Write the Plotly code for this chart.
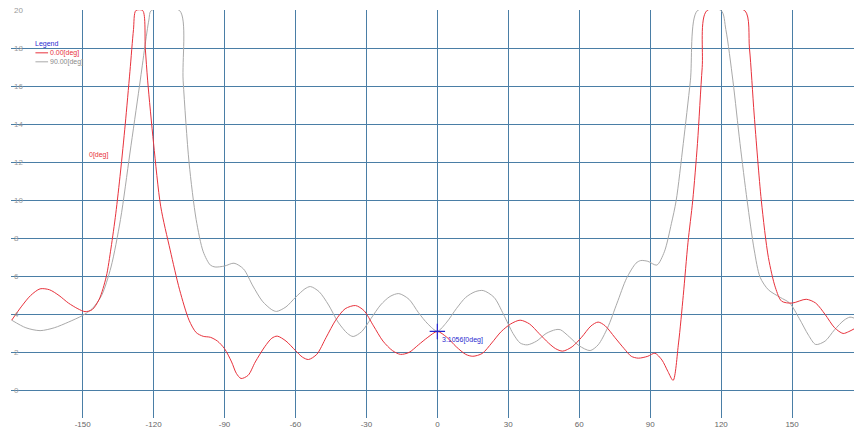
import plotly.graph_objects as go

# Azimuth angles [deg] and response values for the two cuts
red_deg = [-180, -176, -172, -168, -164, -160, -156, -152, -149, -146, -143, -140, -138, -136,
           -134, -132, -130, -128.5, -127.5, -124.6, -123.5, -122.5, -120, -117, -113, -109,
           -105, -102, -99, -96, -93, -90, -87, -85, -83, -80, -77, -73, -70, -67.7, -64, -60,
           -57, -54.5, -51, -47, -43, -39, -34.6, -31, -27, -23, -19, -15.6, -12, -8, -4, 0,
           4, 8, 12, 15, 19, 23, 27, 31, 35, 39, 43, 47, 50, 53, 57, 61, 65, 68, 71, 75, 79,
           82, 85, 89, 92, 95, 97.5, 99.7, 102, 104, 106, 108, 110, 112, 114, 130, 132, 134,
           137, 140, 143, 145.6, 150, 156, 160, 164, 168, 171.6, 174, 176.5]
red_val = [3.7, 4.4, 5.0, 5.35, 5.3, 5.0, 4.6, 4.3, 4.15, 4.25, 4.8, 6.0, 7.5, 9.3,
           11.5, 14.0, 16.8, 19.0, 20, 20, 18.0, 16.3, 13.0, 9.7, 7.4, 5.3,
           3.7, 3.05, 2.85, 2.8, 2.6, 2.2, 1.5, 0.9, 0.63, 0.8, 1.5, 2.3, 2.75, 2.86, 2.6, 2.1,
           1.75, 1.63, 1.9, 2.8, 3.7, 4.3, 4.47, 4.2, 3.4, 2.6, 2.1, 1.9, 2.0, 2.4, 2.8, 3.1056,
           2.8, 2.3, 1.9, 1.8, 1.95, 2.5, 3.1, 3.5, 3.7, 3.5, 3.0, 2.5, 2.2, 2.07, 2.3, 2.8, 3.4,
           3.6, 3.4, 2.8, 2.2, 1.8, 1.7, 1.8, 1.96, 1.6, 1.0, 0.53, 2.5, 5.0, 7.8, 10.0, 13.0,
           17.0, 20, 20, 18.0, 14.5, 10.0, 7.0, 5.4, 4.7, 4.6, 4.8, 4.6, 4.0, 3.3, 3.0, 3.1, 3.26]

gray_deg = [-180, -174, -168, -162, -156, -150, -146, -142, -138, -134, -130, -126, -122, -121,
            -109, -107.5, -105, -102, -99, -96, -94, -90, -86, -82, -78, -74, -70, -68, -64,
            -60, -56, -53.7, -50, -46, -42, -38, -35.6, -32, -28, -24, -20, -16.3, -12, -8, -4,
            0, 4, 8, 12, 16, 19.4, 24, 28, 32, 35, 38, 42, 46, 50, 52, 56, 60, 64.6, 68, 72,
            76, 80, 84, 86, 89, 92.8, 96, 99, 101, 104, 107, 110, 120, 122, 125, 128, 131, 134,
            136.5, 140, 145, 149, 153, 157, 160, 164, 168, 172, 174.5, 176.5]
gray_val = [3.7, 3.3, 3.15, 3.3, 3.6, 3.95, 4.3, 5.0, 6.5, 9.0, 12.5, 16.0, 19.5, 20,
            20, 16.3, 12.0, 9.0, 7.3, 6.6, 6.5, 6.55, 6.7, 6.4, 5.5, 4.7, 4.25, 4.16, 4.4,
            4.9, 5.35, 5.47, 5.2, 4.5, 3.6, 3.0, 2.84, 3.1, 3.8, 4.5, 4.95, 5.1, 4.8, 4.1, 3.5,
            3.12, 3.6, 4.3, 4.9, 5.2, 5.26, 4.9, 4.0, 3.0, 2.5, 2.4, 2.6, 3.0, 3.2, 3.2, 2.8,
            2.35, 2.1, 2.4, 3.3, 4.6, 5.9, 6.7, 6.84, 6.8, 6.6, 7.3, 8.8, 10.0, 13.0, 16.3, 20,
            20, 19.0, 16.3, 13.0, 10.0, 7.4, 5.96, 5.3, 4.9, 4.6, 3.8, 2.9, 2.42, 2.6, 3.2, 3.7,
            3.86, 3.8]

x_ticks = [-150, -120, -90, -60, -30, 0, 30, 60, 90, 120, 150]
y_ticks = [0, 2, 4, 6, 8, 10, 12, 14, 16, 18, 20]

series_names = ["0.00[deg]", "90.00[deg]"]
cursor_deg = 0
cursor_val = red_val[red_deg.index(cursor_deg)]

RED = "#e8323c"
GRAY = "#a9a9a9"
GRID = "#4a7ea6"
FONT = "Liberation Sans Narrow, Liberation Sans, Arial"

fig = go.Figure()
fig.add_trace(go.Scatter(x=gray_deg, y=gray_val, mode="lines", name=series_names[1],
                         line=dict(color=GRAY, width=1, shape="spline", smoothing=0.8),
                         showlegend=False, hoverinfo="skip"))
fig.add_trace(go.Scatter(x=red_deg, y=red_val, mode="lines", name=series_names[0],
                         line=dict(color=RED, width=1, shape="spline", smoothing=0.8),
                         showlegend=False, hoverinfo="skip"))

# cursor marker with its readout
fig.add_trace(go.Scatter(x=[cursor_deg], y=[cursor_val], mode="markers",
                         marker=dict(symbol="cross-thin", size=11,
                                     line=dict(color="#2626d0", width=1.2)),
                         showlegend=False, hoverinfo="skip"))
fig.add_annotation(x=cursor_deg, y=cursor_val, text=f"{cursor_val:.4f}[{cursor_deg}deg]",
                   showarrow=False, xanchor="left", yanchor="top", xshift=3, yshift=-3,
                   font=dict(family=FONT, size=7, color="#2a2ad0"))

# series label on the curve
fig.add_annotation(x=-148, y=12.4, text="0[deg]", showarrow=False, xanchor="left",
                   font=dict(family=FONT, size=7, color=RED))

# hand-drawn legend block
fig.add_annotation(xref="paper", yref="paper", x=0.026, y=0.917, text="Legend",
                   showarrow=False, xanchor="left", yanchor="middle",
                   font=dict(family=FONT, size=7, color="#2a2ad0"))
for i, (name, col) in enumerate(zip(series_names, [RED, GRAY])):
    yy = 0.895 - i * 0.022
    fig.add_shape(type="line", xref="paper", yref="paper", x0=0.029, x1=0.044,
                  y0=yy, y1=yy, line=dict(color=col, width=1))
    fig.add_annotation(xref="paper", yref="paper", x=0.044, y=yy, text=name,
                       showarrow=False, xanchor="left", yanchor="middle",
                       font=dict(family=FONT, size=7, color=col if i == 0 else "#8a8a8a"))

fig.update_layout(
    width=854, height=428,
    margin=dict(l=11, r=0, t=10, b=10),
    paper_bgcolor="white", plot_bgcolor="white",
    showlegend=False,
    xaxis=dict(range=[-180.3, 176.2], tickvals=x_ticks, ticktext=[str(v) for v in x_ticks],
               showgrid=True, gridcolor=GRID, gridwidth=1.2, zeroline=False,
               showline=False, ticks="", tickfont=dict(family=FONT, size=8, color="#666666"),
               ticklabelstandoff=0),
    yaxis=dict(range=[-1.45, 20.03], tickvals=y_ticks, ticktext=[str(v) for v in y_ticks],
               showgrid=True, gridcolor=GRID, gridwidth=1.2, zeroline=False,
               showline=False, ticks="", ticklabelposition="inside",
               ticklabeloverflow="allow",
               tickfont=dict(family=FONT, size=8, color="#9a9a9a")),
)

fig.write_html("out.html")
